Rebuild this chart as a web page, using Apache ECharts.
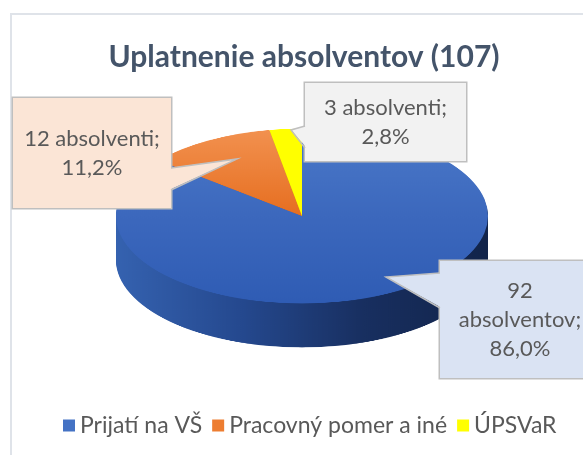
<!DOCTYPE html>
<html>
<head>
<meta charset="utf-8">
<script src="https://cdn.jsdelivr.net/npm/echarts@6/dist/echarts.min.js"></script>
<style>
  html, body { margin: 0; padding: 0; background: #fff; overflow: hidden; }
  #wrap { position: relative; width: 583px; height: 455px; overflow: hidden; }
  #frame { position: absolute; left: 10px; top: 13px; width: 620px; height: 480px; border: 2px solid #dfe3e9; box-sizing: border-box; }
  /* the pie is drawn round and squashed here to get the tilted look */
  #pie { position: absolute; left: 0; top: 0; width: 583px; height: 760px; transform: scaleY(0.47); transform-origin: 0 0; }
  #main { position: absolute; left: 0; top: 0; width: 583px; height: 455px; }
</style>
</head>
<body>
<div id="wrap">
  <div id="frame"></div>
  <div id="pie"></div>
  <div id="main"></div>
</div>
<script>
// data
const categories = ['Prijatí na VŠ', 'Pracovný pomer a iné', 'ÚPSVaR']
const counts = [92, 12, 3]
const unitWords = ['absolventov', 'absolventi', 'absolventi']
const total = counts.reduce((a, b) => a + b, 0)

// look
const FONT = 'Lato'
const legendColors = ['#4472c4', '#ed7d31', '#ffff00']
const boxColors = ['#dae3f3', '#fbe5d6', '#f2f2f2']
const S = 0.47      // vertical squash of the pie
const CX = 302
const CY = 216
const R = 186
const DEPTH = 44

function grad(x2, y2, stops) {
  return new echarts.graphic.LinearGradient(0, 0, x2, y2, stops.map((c, i) => ({ offset: i / (stops.length - 1), color: c })))
}

const topColors = [
  grad(0, 1, ['#4b79c9', '#3c68bd', '#2f5cb4']),
  grad(0, 1, ['#f2914f', '#e66e20']),
  '#ffff00'
]
const sideColors = [
  grad(1, 0, ['#3562b0', '#25498f', '#182f60', '#12244a']),
  '#b35a1c',
  '#c4c400'
]

function pieLayer(offset, colors) {
  return {
    type: 'pie',
    silent: true,
    animation: false,
    startAngle: 90,
    clockwise: true,
    center: [CX, CY / S + offset],
    radius: R,
    label: { show: false },
    labelLine: { show: false },
    emphasis: { disabled: true },
    data: counts.map((v, i) => ({ value: v, name: categories[i], itemStyle: { color: colors[i] } }))
  }
}

const pieSeries = []
const N = 40
for (let i = 0; i < N; i++) {
  pieSeries.push(pieLayer((DEPTH / S) * (1 - i / N), sideColors))
}
pieSeries.push(pieLayer(0, topColors))

const pieChart = echarts.init(document.getElementById('pie'), null, { renderer: 'canvas' })
pieChart.setOption({ animation: false, series: pieSeries })

// labels: centre of each callout box and its text padding
const labelBoxes = [
  { x: 520, y: 319.5, w: 160, pad: [16, 0, 14, 0] },
  { x: 92, y: 153, w: 158, pad: [27, 0, 25, 0] },
  { x: 385.5, y: 122, w: 161, pad: [10, 0, 10, 0] }
]
const labelSep = ['\n', ' ', ' ']

function pct(v) {
  return (v / total * 100).toFixed(1).replace('.', ',') + '%'
}

function pointer(fillColor, pts, edgeX) {
  const inner = pts.map((p, i) => (i === 1 ? p : [edgeX, p[1]]))
  return [
    { type: 'polygon', z: 100, silent: true, shape: { points: inner }, style: { fill: fillColor } },
    { type: 'polyline', z: 101, silent: true, shape: { points: pts }, style: { stroke: '#bfbfbf', lineWidth: 1.5, fill: null } }
  ]
}

const chart = echarts.init(document.getElementById('main'))
chart.setOption({
  animation: false,
  title: {
    text: `Uplatnenie absolventov (${total})`,
    left: 304,
    top: 42,
    textAlign: 'center',
    padding: 0,
    textStyle: { fontFamily: FONT, fontWeight: 'bold', fontSize: 30, color: '#44546a' }
  },
  legend: {
    left: 58,
    top: 409,
    icon: 'rect',
    itemWidth: 12,
    itemHeight: 12,
    itemGap: 10,
    selectedMode: false,
    textStyle: { fontFamily: FONT, fontSize: 23, color: '#595959' },
    data: categories.map((c, i) => ({ name: c, itemStyle: { color: legendColors[i], opacity: 1 } }))
  },
  graphic: [
    ...pointer(boxColors[1], [[171, 168], [237, 159], [171, 190]], 169),
    ...pointer(boxColors[2], [[305, 126], [291, 130], [305, 148]], 307),
    ...pointer(boxColors[0], [[440, 273], [386, 277], [440, 308]], 442)
  ],
  series: [{
    type: 'pie',
    startAngle: 90,
    clockwise: true,
    center: [CX, CY],
    radius: [0, 90],
    silent: true,
    labelLine: { show: false },
    data: counts.map((v, i) => ({
      value: v,
      name: categories[i],
      itemStyle: { color: 'rgba(0,0,0,0)' },
      label: {
        show: true,
        position: 'outside',
        formatter: () => `${v}${labelSep[i]}${unitWords[i]};\n${pct(v)}`,
        fontFamily: FONT,
        fontSize: 22,
        lineHeight: 29,
        color: '#595959',
        opacity: 1,
        align: 'center',
        width: labelBoxes[i].w,
        padding: labelBoxes[i].pad,
        backgroundColor: boxColors[i],
        borderColor: '#bfbfbf',
        borderWidth: 1.5
      }
    })),
    labelLayout: (params) => {
      const b = labelBoxes[params.dataIndex]
      return { x: b.x, y: b.y, align: 'center', verticalAlign: 'middle' }
    }
  }]
})
</script>
</body>
</html>
